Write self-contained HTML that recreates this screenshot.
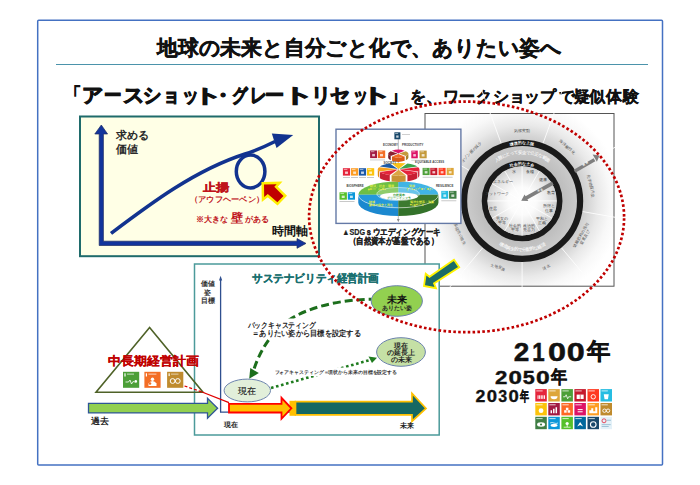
<!DOCTYPE html>
<html lang="ja"><head><meta charset="utf-8">
<style>
html,body{margin:0;padding:0;background:#fff;}
body{width:700px;height:485px;overflow:hidden;font-family:"Liberation Sans",sans-serif;}
svg{position:absolute;left:0;top:0;font-family:"Liberation Sans",sans-serif;}
</style></head>
<body>
<svg width="700" height="485" viewBox="0 0 700 485">
<defs>
  <radialGradient id="dgBg" cx="522.1" cy="200.9" r="100" gradientUnits="userSpaceOnUse">
    <stop offset="0.6" stop-color="#cccccc"/>
    <stop offset="0.66" stop-color="#d6d6d6"/>
    <stop offset="0.76" stop-color="#e9e9e9"/>
    <stop offset="0.88" stop-color="#f8f8f8"/>
    <stop offset="1" stop-color="#ffffff"/>
  </radialGradient>
  <radialGradient id="dgIn" cx="522.1" cy="200.9" r="34.6" gradientUnits="userSpaceOnUse">
    <stop offset="0" stop-color="#ffffff"/>
    <stop offset="0.4" stop-color="#fbfbfb"/>
    <stop offset="0.75" stop-color="#e6e6e6"/>
    <stop offset="1" stop-color="#d0d0d0"/>
  </radialGradient>
  <radialGradient id="dgBand" cx="522.1" cy="200.9" r="55" gradientUnits="userSpaceOnUse">
    <stop offset="0.73" stop-color="#bdbdbd"/>
    <stop offset="1" stop-color="#cacaca"/>
  </radialGradient>
</defs>

<!-- outer frame -->
<rect x="37.7" y="20.2" width="624.8" height="444.8" rx="1" fill="none" stroke="#4471c2" stroke-width="1.5"/>

<!-- title -->
<text x="157" y="55.3" font-size="20.5" font-weight="bold" fill="#111" stroke="#111" stroke-width="0.45" textLength="405" lengthAdjust="spacingAndGlyphs">地球の未来と自分ごと化で、ありたい姿へ</text>
<line x1="56" y1="64.5" x2="648" y2="64.5" stroke="#4b93ab" stroke-width="1.2"/>

<!-- subtitle -->
<g id="sub1" font-size="19.5" font-weight="bold" fill="#111" stroke="#111" stroke-width="1">
  <text x="87.49" y="102" transform="scale(0.750,1)">「</text>
  <text x="77.90" y="102" transform="scale(1.056,1)">ア</text>
  <text x="118.99" y="102" transform="scale(0.877,1)">ー</text>
  <text x="115.18" y="102" transform="scale(1.068,1)">ス</text>
  <text x="155.36" y="102" transform="scale(0.918,1)">シ</text>
  <text x="197.37" y="102" transform="scale(0.824,1)">ョ</text>
  <text x="216.32" y="102" transform="scale(0.840,1)">ッ</text>
  <text x="125.39" y="102" transform="scale(1.538,1)">ト</text>
  <text x="196.70" y="102" transform="scale(1.080,1)">・</text>
  <text x="285.31" y="102" transform="scale(0.814,1)">グ</text>
  <text x="299.87" y="102" transform="scale(0.835,1)">レ</text>
  <text x="277.96" y="102" transform="scale(0.954,1)">ー</text>
  <text x="176.55" y="102" transform="scale(1.600,1)">ト</text>
  <text x="310.56" y="102">リ</text>
  <text x="330.43" y="102">セ</text>
  <text x="470.34" y="102" transform="scale(0.750,1)">ッ</text>
  <text x="224.74" y="102" transform="scale(1.600,1)">ト</text>
  <text x="422.87" y="102" transform="scale(0.920,1)">」</text>
</g>
<text x="410.1 425.5 443.0 459.1 476.0 493.2 509.4 523.6 540.0 559.1 573.9 589.4 605.9 622.6" y="102" font-size="15.8" font-weight="bold" fill="#111" stroke="#111" stroke-width="0.35">を、ワークショップで疑似体験</text>

<!-- ===== left chart ===== -->
<rect x="80" y="116.5" width="239" height="139.7" fill="#ffffe6" stroke="#1f6b6b" stroke-width="2"/>
<!-- axes -->
<polygon points="101.3,125 107.6,134 103.4,134 103.4,241.2 297,241.2 297,238.6 306,243.4 297,248.3 297,245.5 99.2,245.5 99.2,134 94.8,134" fill="#12349c" stroke="#1d2b63" stroke-width="0.7" stroke-linejoin="miter"/>
<text x="115.5" y="138.6" font-size="11.3" font-weight="bold" fill="#2a2a2a">求める</text>
<text x="115.5" y="152.6" font-size="11.3" font-weight="bold" fill="#2a2a2a">価値</text>
<text x="271.5" y="235.3" font-size="11.5" font-weight="bold" fill="#111">時間軸</text>
<!-- curve -->
<path d="M111,233.4 C150,204 195,170 245,154 C258,150 266,146 275,141.5" fill="none" stroke="#12338f" stroke-width="3.6"/>
<polygon points="293.2,135 271.8,133.6 276.5,148" fill="#12338f"/>
<ellipse cx="250.6" cy="171.5" rx="14.3" ry="16.4" fill="none" stroke="#12338f" stroke-width="3.5"/>
<!-- labels -->
<text x="202.5" y="191.4" font-size="11.2" font-weight="bold" fill="#c0141c" stroke="#c0141c" stroke-width="0.3" textLength="26.5" lengthAdjust="spacingAndGlyphs">止揚</text>
<text x="190" y="201.8" font-size="7.8" font-weight="bold" fill="#c0141c" textLength="74" lengthAdjust="spacingAndGlyphs">（アウフヘーベン）</text>
<text x="195.5" y="221.8" font-size="8.2" font-weight="bold" fill="#c0141c">※大きな</text>
<text x="231" y="221.9" font-size="12" font-weight="bold" fill="#c0141c">壁</text>
<text x="245" y="221.8" font-size="8.2" font-weight="bold" fill="#c0141c">がある</text>
<!-- red arrow -->
<polygon points="264,184.4 276.7,184.2 274.3,186.8 283.5,195.9 277.4,202.2 267.8,194.1 264.2,196.9" fill="#c00000" stroke="#ffee00" stroke-width="5" stroke-linejoin="miter" paint-order="stroke"/>

<!-- ===== doughnut image ===== -->
<rect x="425" y="113.5" width="189" height="172.7" fill="url(#dgBg)" stroke="#555" stroke-width="1"/>
<g id="dough">
  <g stroke="#ffffff" stroke-width="0.9" opacity="0.95">
    <line x1="501.20" y1="143.48" x2="477.64" y2="78.74"/>
    <line x1="543.00" y1="143.48" x2="566.56" y2="78.74"/>
    <line x1="575.01" y1="170.35" x2="634.68" y2="135.90"/>
    <line x1="582.27" y1="211.51" x2="650.13" y2="223.47"/>
    <line x1="561.37" y1="247.71" x2="605.66" y2="300.49"/>
    <line x1="522.10" y1="262.00" x2="522.10" y2="330.90"/>
    <line x1="482.83" y1="247.71" x2="438.54" y2="300.49"/>
    <line x1="461.93" y1="211.51" x2="394.07" y2="223.47"/>
    <line x1="469.19" y1="170.35" x2="409.52" y2="135.90"/>
  </g>
  <g font-size="3.8" fill="#505050" text-anchor="middle">
    <text x="522.10" y="131.70" transform="rotate(0 522.10 130.40)">気候変動</text>
    <text x="567.42" y="148.19" transform="rotate(40 567.42 146.89)">海洋酸性化</text>
    <text x="591.06" y="187.54" transform="rotate(78 591.06 186.24)">化学物質汚染</text>
    <text x="585.15" y="238.60" transform="rotate(-60 585.15 237.30)">窒素及び</text>
    <text x="581.16" y="236.30" transform="rotate(-60 581.16 235.00)">燐酸肥料の投与</text>
    <text x="546.21" y="268.45" transform="rotate(-20 546.21 267.15)">淡水</text>
    <text x="497.99" y="268.45" transform="rotate(20 497.99 267.15)">土地変換</text>
    <text x="458.21" y="231.99" transform="rotate(65 458.21 230.69)">生物多様性の喪失</text>
    <text x="452.67" y="189.96" transform="rotate(280 452.67 188.66)">大気汚染</text>
    <text x="471.39" y="153.23" transform="rotate(314 471.39 151.93)">オゾン層の減少</text>
  </g>
  <circle cx="522.1" cy="200.9" r="47.65" fill="none" stroke="url(#dgBand)" stroke-width="14.50"/>
  <circle cx="522.1" cy="200.9" r="58.00" fill="none" stroke="#1a1a1a" stroke-width="6.2"/>
  <circle cx="522.1" cy="200.9" r="37.50" fill="none" stroke="#1a1a1a" stroke-width="5.8"/>
  <circle cx="522.1" cy="200.9" r="34.60" fill="url(#dgIn)"/>
  <g stroke="#ffffff" stroke-width="0.8">
    <line x1="522.10" y1="194.90" x2="522.10" y2="166.30"/>
    <line x1="525.10" y1="195.70" x2="539.40" y2="170.94"/>
    <line x1="527.30" y1="197.90" x2="552.06" y2="183.60"/>
    <line x1="528.10" y1="200.90" x2="556.70" y2="200.90"/>
    <line x1="527.30" y1="203.90" x2="552.06" y2="218.20"/>
    <line x1="525.10" y1="206.10" x2="539.40" y2="230.86"/>
    <line x1="522.10" y1="206.90" x2="522.10" y2="235.50"/>
    <line x1="519.10" y1="206.10" x2="504.80" y2="230.86"/>
    <line x1="516.90" y1="203.90" x2="492.14" y2="218.20"/>
    <line x1="516.10" y1="200.90" x2="487.50" y2="200.90"/>
    <line x1="516.90" y1="197.90" x2="492.14" y2="183.60"/>
    <line x1="519.10" y1="195.70" x2="504.80" y2="170.94"/>
  </g>
  <g font-size="3.7" fill="#444" text-anchor="middle">
    <text x="514.39" y="173.42">水</text>
    <text x="529.81" y="173.42">食糧</text>
    <text x="543.17" y="181.13">健康</text>
    <text x="550.88" y="194.49">教育</text>
    <text x="548.95" y="207.30">所得と</text>
    <text x="548.95" y="211.50">仕事</text>
    <text x="541.76" y="219.76">平和と</text>
    <text x="541.76" y="223.96">正義</text>
    <text x="529.30" y="226.95">政治的</text>
    <text x="529.30" y="231.15">発言力</text>
    <text x="514.90" y="226.95">社会的</text>
    <text x="514.90" y="231.15">平等</text>
    <text x="502.44" y="219.76">男女の</text>
    <text x="502.44" y="223.96">平等</text>
    <text x="493.32" y="209.91">住居</text>
    <text x="496.99" y="195.47">ネットワーク</text>
    <text x="502.65" y="182.75">エネルギー</text>
  </g>
  <defs>
    <path id="tpOut" d="M485.72,157.54 A56.6,56.6 0 0 1 558.48,157.54" fill="none"/>
    <path id="tpIn" d="M496.57,175.37 A36.1,36.1 0 0 1 547.63,175.37" fill="none"/>
    <path id="tpBandT" d="M485.98,170.59 A47.15,47.15 0 0 1 558.22,170.59" fill="none"/>
    <path id="tpBandB" d="M478.67,225.97 A50.15,50.15 0 0 0 565.53,225.97" fill="none"/>
  </defs>
  <g fill="#ffffff" font-size="3.9" font-weight="bold">
    <text><textPath href="#tpOut" startOffset="50%" text-anchor="middle">環境的な上限</textPath></text>
    <text><textPath href="#tpIn" startOffset="50%" text-anchor="middle">社会的な土台</textPath></text>
  </g>
  <g fill="#f4f4f4" font-size="4.4" font-weight="bold">
    <text><textPath href="#tpBandT" startOffset="50%" text-anchor="middle">人類にとって安全で公正な範囲</textPath></text>
    <text><textPath href="#tpBandB" startOffset="50%" text-anchor="middle">環境再生的で分配的な経済</textPath></text>
  </g>
  <line x1="552.8" y1="183.2" x2="525.5" y2="198.4" stroke="#7f7f7f" stroke-width="3.7"/>
  <polygon points="521.2,200.8 528.3,201.1 524.6,194.5" fill="#7f7f7f"/>
  <line x1="574.5" y1="171.2" x2="594.5" y2="159.8" stroke="#7f7f7f" stroke-width="3.3"/>
  <polygon points="599.5,155.5 592.6,154.4 596.9,161.8" fill="#7f7f7f"/>
  <g fill="#fff" font-size="2.6" font-weight="bold"><text x="538" y="192" transform="rotate(-29 538 192)">不足</text><text x="583" y="166" transform="rotate(-30 583 166)">超過</text></g>
</g>

<!-- ===== SDG wedding cake ===== -->
<rect x="336" y="129.2" width="124.9" height="94.2" fill="#ffffff" stroke="#6479a6" stroke-width="1.4"/>
<g id="cake">
  <line x1="398.3" y1="139" x2="398.3" y2="220" stroke="#8a8a8a" stroke-width="0.6"/>
  <polygon points="396.9,219 399.7,219 398.3,222.3" fill="#8a8a8a"/>
  <path d="M358.25,194.7 A40.1,13.1 0 0 0 398.35,207.8 L398.35,215.9 A40.1,13.1 0 0 1 358.25,202.8 Z" fill="#1b88cf"/>
  <path d="M398.35,207.8 A40.1,13.1 0 0 0 438.45,194.7 L438.45,202.8 A40.1,13.1 0 0 1 398.35,215.9 Z" fill="#33722a"/>
  <path d="M398.35,194.7 L358.25,194.7 A40.1,13.1 0 0 1 398.35,181.6 Z" fill="#6dbe45"/>
  <path d="M398.35,194.7 L398.35,181.6 A40.1,13.1 0 0 1 438.45,194.7 Z" fill="#40b4e5"/>
  <path d="M398.35,194.7 L398.35,207.8 A40.1,13.1 0 0 1 358.25,194.7 Z" fill="#2398db"/>
  <path d="M398.35,194.7 L438.45,194.7 A40.1,13.1 0 0 1 398.35,207.8 Z" fill="#3c7a2f"/>
  <path d="M358.25,194.7 A40.1,13.1 0 0 0 438.45,194.7" fill="none" stroke="#ffffff" stroke-width="0.6" opacity="0.8"/>
  <ellipse cx="398.1" cy="194" rx="21.3" ry="6.6" fill="#ffffff" fill-opacity="0.22" stroke="#ffffff" stroke-width="0.6" stroke-opacity="0.8"/>
  <ellipse cx="399" cy="196.3" rx="19" ry="3.8" fill="#ffffff"/>
  <g font-size="2.8" fill="#3a9a3a" text-anchor="middle" font-weight="bold"><text x="399" y="195.6">自然資本</text><text x="399" y="198.8">グリーンインフラ</text></g>
  <g font-size="2.6" fill="#e8f040" font-weight="bold">
    <text x="370" y="186.8">経済・社会・環境</text><text x="368" y="189.8">ﾁｪﾝｼﾞﾒｰｶｰ</text>
    <text x="409" y="186.8">気候</text><text x="407" y="189.8">ｸﾞﾘｰﾝﾌﾟﾛｼﾞｪｸﾄ</text>
    <text x="369" y="202.6">陸域</text><text x="369" y="205.6">森林の保全と再生</text>
    <text x="410" y="203">海洋生態系・漁業</text><text x="410" y="206">ｻｽﾃﾅﾌﾞﾙ</text>
  </g>
<path d="M398.60,168.93 L391.58,163.33 A19.6,6.0 0 0 1 405.62,163.33 Z" fill="#f9c21a"/>
<path d="M399.45,169.04 L407.42,163.56 A19.6,6.0 0 0 1 417.35,166.60 Z" fill="#3da24a"/>
<path d="M397.75,169.04 L379.85,166.60 A19.6,6.0 0 0 1 389.78,163.56 Z" fill="#1d5ba5"/>
<path d="M419.40,169.30 A19.6,6.0 0 0 1 418.10,171.45 L418.10,177.65 A19.6,6.0 0 0 0 419.40,175.50 Z" fill="#c81f33"/>
<path d="M399.80,169.30 L418.10,167.15 A19.6,6.0 0 0 1 418.10,171.45 Z" fill="#e5243b"/>
<path d="M379.10,171.45 A19.6,6.0 0 0 1 377.80,169.30 L377.80,175.50 A19.6,6.0 0 0 0 379.10,177.65 Z" fill="#e08a10"/>
<path d="M397.40,169.30 L379.10,171.45 A19.6,6.0 0 0 1 379.10,167.15 Z" fill="#f7a11d"/>
<path d="M417.35,172.00 A19.6,6.0 0 0 1 407.42,175.04 L407.42,181.24 A19.6,6.0 0 0 0 417.35,178.20 Z" fill="#c81f33"/>
<path d="M399.45,169.56 L417.35,172.00 A19.6,6.0 0 0 1 407.42,175.04 Z" fill="#e5243b"/>
<path d="M389.78,175.04 A19.6,6.0 0 0 1 379.85,172.00 L379.85,178.20 A19.6,6.0 0 0 0 389.78,181.24 Z" fill="#c81f33"/>
<path d="M397.75,169.56 L389.78,175.04 A19.6,6.0 0 0 1 379.85,172.00 Z" fill="#e5243b"/>
<path d="M405.62,175.27 A19.6,6.0 0 0 1 391.58,175.27 L391.58,181.47 A19.6,6.0 0 0 0 405.62,181.47 Z" fill="#c99236"/>
<path d="M398.60,169.67 L405.62,175.27 A19.6,6.0 0 0 1 391.58,175.27 Z" fill="#dba544"/>
<path d="M398.30,153.29 L391.96,150.66 A9.3,3.6 0 0 1 404.64,150.66 Z" fill="#dd1367"/>
<path d="M408.40,153.60 A9.3,3.6 0 0 1 405.90,156.06 L405.90,160.26 A9.3,3.6 0 0 0 408.40,157.80 Z" fill="#a8822e"/>
<path d="M399.10,153.60 L405.90,151.14 A9.3,3.6 0 0 1 405.90,156.06 Z" fill="#c49a3c"/>
<path d="M390.70,156.06 A9.3,3.6 0 0 1 388.20,153.60 L388.20,157.80 A9.3,3.6 0 0 0 390.70,160.26 Z" fill="#701828"/>
<path d="M397.50,153.60 L390.70,156.06 A9.3,3.6 0 0 1 390.70,151.14 Z" fill="#8c1f2e"/>
<path d="M404.64,156.54 A9.3,3.6 0 0 1 391.96,156.54 L391.96,160.74 A9.3,3.6 0 0 0 404.64,160.74 Z" fill="#d85a18"/>
<path d="M398.30,153.91 L404.64,156.54 A9.3,3.6 0 0 1 391.96,156.54 Z" fill="#f36d25"/>

<rect x="394.4" y="132.3" width="6" height="7" fill="#19486a"/><rect x="396.20" y="135.45" width="2.40" height="2.24" fill="#fff" opacity="0.75"/><rect x="395.12" y="133.00" width="3.00" height="0.84" fill="#fff" opacity="0.6"/>
<rect x="370.1" y="150.5" width="6.9" height="7.6" fill="#a21942"/><rect x="372.17" y="153.92" width="2.76" height="2.43" fill="#fff" opacity="0.75"/><rect x="370.93" y="151.26" width="3.45" height="0.91" fill="#fff" opacity="0.6"/>
<rect x="377.8" y="150.5" width="7.4" height="7.6" fill="#f36d25"/><rect x="380.02" y="153.92" width="2.96" height="2.43" fill="#fff" opacity="0.75"/><rect x="378.69" y="151.26" width="3.70" height="0.91" fill="#fff" opacity="0.6"/>
<rect x="411.3" y="150.6" width="6.5" height="7.7" fill="#dd1367"/><rect x="413.25" y="154.06" width="2.60" height="2.46" fill="#fff" opacity="0.75"/><rect x="412.08" y="151.37" width="3.25" height="0.92" fill="#fff" opacity="0.6"/>
<rect x="419.5" y="150.6" width="7.2" height="7.7" fill="#c49a3c"/><rect x="421.66" y="154.06" width="2.88" height="2.46" fill="#fff" opacity="0.75"/><rect x="420.36" y="151.37" width="3.60" height="0.92" fill="#fff" opacity="0.6"/>
<rect x="342.9" y="168.2" width="7.2" height="7.4" fill="#e5243b"/><rect x="345.06" y="171.53" width="2.88" height="2.37" fill="#fff" opacity="0.75"/><rect x="343.76" y="168.94" width="3.60" height="0.89" fill="#fff" opacity="0.6"/>
<rect x="351" y="168.2" width="7.2" height="7.4" fill="#fd9d24"/><rect x="353.16" y="171.53" width="2.88" height="2.37" fill="#fff" opacity="0.75"/><rect x="351.86" y="168.94" width="3.60" height="0.89" fill="#fff" opacity="0.6"/>
<rect x="358.9" y="168.2" width="7.2" height="7.4" fill="#1e5aa8"/><rect x="361.06" y="171.53" width="2.88" height="2.37" fill="#fff" opacity="0.75"/><rect x="359.76" y="168.94" width="3.60" height="0.89" fill="#fff" opacity="0.6"/>
<rect x="367" y="168.2" width="7.2" height="7.4" fill="#fcc30b"/><rect x="369.16" y="171.53" width="2.88" height="2.37" fill="#fff" opacity="0.75"/><rect x="367.86" y="168.94" width="3.60" height="0.89" fill="#fff" opacity="0.6"/>
<rect x="422.6" y="167.9" width="7.0" height="7.2" fill="#4c9f38"/><rect x="424.70" y="171.14" width="2.80" height="2.30" fill="#fff" opacity="0.75"/><rect x="423.44" y="168.62" width="3.50" height="0.86" fill="#fff" opacity="0.6"/>
<rect x="430.3" y="167.9" width="7.0" height="7.2" fill="#c5192d"/><rect x="432.40" y="171.14" width="2.80" height="2.30" fill="#fff" opacity="0.75"/><rect x="431.14" y="168.62" width="3.50" height="0.86" fill="#fff" opacity="0.6"/>
<rect x="438.6" y="167.9" width="7.0" height="7.2" fill="#ff3a21"/><rect x="440.70" y="171.14" width="2.80" height="2.30" fill="#fff" opacity="0.75"/><rect x="439.44" y="168.62" width="3.50" height="0.86" fill="#fff" opacity="0.6"/>
<rect x="446.7" y="167.9" width="7.0" height="7.2" fill="#dda63a"/><rect x="448.80" y="171.14" width="2.80" height="2.30" fill="#fff" opacity="0.75"/><rect x="447.54" y="168.62" width="3.50" height="0.86" fill="#fff" opacity="0.6"/>
<rect x="339.5" y="192.3" width="7.4" height="7.4" fill="#56c02b"/><rect x="341.72" y="195.63" width="2.96" height="2.37" fill="#fff" opacity="0.75"/><rect x="340.39" y="193.04" width="3.70" height="0.89" fill="#fff" opacity="0.6"/>
<rect x="347.8" y="192.3" width="7.2" height="7.4" fill="#0a97d9"/><rect x="349.96" y="195.63" width="2.88" height="2.37" fill="#fff" opacity="0.75"/><rect x="348.66" y="193.04" width="3.60" height="0.89" fill="#fff" opacity="0.6"/>
<rect x="441.3" y="190.9" width="6.9" height="7.8" fill="#26bde2"/><rect x="443.37" y="194.41" width="2.76" height="2.50" fill="#fff" opacity="0.75"/><rect x="442.13" y="191.68" width="3.45" height="0.94" fill="#fff" opacity="0.6"/>
<rect x="449.1" y="190.9" width="7.4" height="7.8" fill="#3f7e44"/><rect x="451.32" y="194.41" width="2.96" height="2.50" fill="#fff" opacity="0.75"/><rect x="449.99" y="191.68" width="3.70" height="0.94" fill="#fff" opacity="0.6"/>
  <g font-size="2.9" fill="#444" font-weight="bold">
    <text x="383" y="146">ECONOMY</text><text x="402" y="146">PRODUCTIVITY</text>
    <text x="383.5" y="163.6">SOCIETY</text><text x="415" y="163.2">EQUITABLE ACCESS</text>
    <text x="346.6" y="187.4">BIOSPHERE</text><text x="436" y="186.5">RESILIENCE</text>
  </g>
  <g fill="#bbb">
    <rect x="343" y="177.2" width="7" height="0.8"/><rect x="351" y="177.2" width="7" height="0.8"/><rect x="359" y="177.2" width="7" height="0.8"/><rect x="367" y="177.2" width="7" height="0.8"/>
    <rect x="422.6" y="176.8" width="30" height="0.8"/>
    <rect x="339.5" y="201.2" width="15" height="0.8"/><rect x="441.3" y="200.4" width="15" height="0.8"/>
    <rect x="370" y="159.6" width="15" height="0.7"/><rect x="411.3" y="159.8" width="15" height="0.7"/>
    <rect x="402" y="134" width="8" height="0.7"/>
  </g>
</g>
<text x="342.3" y="235" font-size="8.6" font-weight="bold" fill="#222" stroke="#222" stroke-width="0.2" textLength="98.5" lengthAdjust="spacingAndGlyphs">▲SDGｓウエディングケーキ</text>
<text x="348.6" y="243.6" font-size="8.6" font-weight="bold" fill="#222" stroke="#222" stroke-width="0.2" textLength="89.5" lengthAdjust="spacingAndGlyphs">（自然資本が基盤である）</text>

<!-- ===== sustainability box ===== -->
<rect x="194.5" y="264" width="244.7" height="171" fill="#ffffff" stroke="#4b9a9a" stroke-width="1.5"/>
<!-- teal arrow from doughnut -->
<polygon points="424,286 425.7,273.8 429.5,276.8 454,259.8 459.2,267.3 434,283.4 436,288.2" fill="#1b6b67" stroke="#fff200" stroke-width="1.8" stroke-linejoin="miter"/>
<!-- axis -->
<line x1="220.6" y1="279" x2="220.6" y2="412.2" stroke="#2f4f8f" stroke-width="1.3"/>
<line x1="220" y1="412.2" x2="300" y2="412.2" stroke="#2f4f8f" stroke-width="1.3"/>
<polygon points="219,280.5 222.2,280.5 220.6,275.8" fill="#2f4f8f"/>
<g font-size="7.4" font-weight="bold" fill="#333" text-anchor="middle">
  <text x="207.6" y="286.4">価値</text>
  <text x="207.6" y="294.9">姿</text>
  <text x="207.6" y="303.4">目標</text>
</g>
<text x="252" y="282" font-size="11" font-weight="bold" fill="#1a7070" stroke="#1a7070" stroke-width="0.3" textLength="127" lengthAdjust="spacingAndGlyphs">サステナビリティ経営計画</text>
<!-- backcasting dashed -->
<path id="bcpath" d="M371,299.3 C340,299.5 300,308 280,327 C268,338 259,354 254.2,368.5" fill="none" stroke="#1c6e1c" stroke-width="3" stroke-dasharray="8,4" stroke-dashoffset="5.6"/>
<polygon points="249.2,378.8 250.3,368 258.8,373.1" fill="#1c6e1c"/>
<rect x="246" y="318.5" width="117" height="19.5" fill="#fff"/>
<text x="247.5" y="328.3" font-size="7.6" font-weight="bold" fill="#222" textLength="68" lengthAdjust="spacingAndGlyphs">バックキャスティング</text>
<text x="252" y="336.2" font-size="7.6" font-weight="bold" fill="#222" textLength="109" lengthAdjust="spacingAndGlyphs">＝ありたい姿から目標を設定する</text>

<!-- forecasting dotted -->
<line x1="271" y1="388" x2="370" y2="360" stroke="#1e7b1e" stroke-width="2.6" stroke-dasharray="2.6,2.6"/>
<polygon points="377,357.8 368.5,356.5 372,363" fill="#1e7b1e"/>
<rect x="273" y="367.6" width="124.5" height="8.4" fill="#ffffff"/>
<text x="274.6" y="374.2" font-size="5" font-weight="bold" fill="#333" textLength="122.4" lengthAdjust="spacingAndGlyphs">フォアキャスティング＝現状から未来の目標を設定する</text>

<!-- ellipses -->
<ellipse cx="396.8" cy="301" rx="25.6" ry="15.3" fill="#92d050" stroke="#6c83ad" stroke-width="1"/>
<text x="396.8" y="303.3" font-size="10" font-weight="bold" text-anchor="middle" fill="#111">未来</text>
<text x="396.6" y="310.2" font-size="5.6" font-weight="bold" text-anchor="middle" fill="#222">ありたい姿</text>
<ellipse cx="401" cy="352" rx="24.4" ry="14.3" fill="#c5e0a5" stroke="#6c83ad" stroke-width="1"/>
<g font-size="6.6" font-weight="bold" text-anchor="middle" fill="#222">
  <text x="401" y="347.6">現在</text>
  <text x="401" y="355">の延長上</text>
  <text x="401" y="362.4">の未来</text>
</g>
<ellipse cx="247.3" cy="390.5" rx="23.2" ry="11.4" fill="#e2efda" stroke="#6c83ad" stroke-width="1"/>
<text x="247.3" y="394" font-size="9" text-anchor="middle" fill="#1a1a1a" stroke="#1a1a1a" stroke-width="0.15">現在</text>

<!-- bottom arrows -->
<polygon points="295.5,401.7 412,401.7 412,393.3 426,408.4 412,421.2 412,414.9 295.5,414.9" fill="#156863" stroke="#ffc000" stroke-width="1.7" stroke-linejoin="miter"/>
<rect x="289.5" y="400.8" width="6.5" height="15" fill="#ffc000"/>
<polygon points="229,403.8 281.5,403.8 281.5,397.8 291.4,408.3 281.5,418.8 281.5,412.5 229,412.5" fill="#ffc000" stroke="#ff0000" stroke-width="1.8" stroke-linejoin="miter"/>
<polygon points="88.5,403.4 207.5,403.4 207.5,398.4 217.6,408.3 207.5,418.2 207.5,412.9 88.5,412.9" fill="#92d050" stroke="#2f5597" stroke-width="1.3" stroke-linejoin="miter"/>
<text x="90.5" y="423.6" font-size="9" font-weight="bold" fill="#222">過去</text>
<text x="223.5" y="427.4" font-size="7.4" font-weight="bold" fill="#222">現在</text>
<text x="399.5" y="427.6" font-size="7.4" font-weight="bold" fill="#222">未来</text>

<!-- triangle -->
<polygon points="149.6,327.6 96,392.3 203,392.3" fill="none" stroke="#4f6228" stroke-width="1.6"/>
<text x="108" y="364.8" font-size="12.3" font-weight="bold" fill="#c00000" stroke="#c00000" stroke-width="0.15" textLength="90.5" lengthAdjust="spacingAndGlyphs">中長期経営計画</text>
<rect x="123" y="371.8" width="16.2" height="16" fill="#4c9f38"/>
<rect x="124.4" y="373.3" width="1.2" height="3.2" fill="#fff"/><rect x="127" y="373.6" width="7" height="1" fill="#fff" opacity="0.7"/>
<polyline points="125.5,382 128.5,382 130,380 131.5,384 133,381.5 134.5,382" fill="none" stroke="#fff" stroke-width="0.8"/><circle cx="135.8" cy="381.4" r="1.3" fill="#fff"/>
<rect x="144.4" y="371.8" width="16.2" height="16" fill="#f36d25"/>
<rect x="145.8" y="373.3" width="1.2" height="3.2" fill="#fff"/><rect x="148.4" y="373.6" width="8" height="1" fill="#fff" opacity="0.7"/>
<circle cx="152.5" cy="379.2" r="1.7" fill="#fff"/><path d="M148.5,386 v-2.5 q1.5,-2.5 4,-2.5 q2.5,0 4,2.5 v2.5 z" fill="#fff"/><circle cx="150" cy="383.5" r="1.3" fill="#f36d25"/>
<rect x="167.1" y="371.8" width="16.2" height="16" fill="#bf8b2e"/>
<rect x="168.5" y="373.3" width="1.3" height="2.8" fill="#fff" opacity="0.9"/><rect x="171" y="373.6" width="7.5" height="1" fill="#fff" opacity="0.6"/>
<circle cx="172.6" cy="381" r="2.4" fill="none" stroke="#fff" stroke-width="1"/><circle cx="177.8" cy="381" r="2.4" fill="none" stroke="#fff" stroke-width="1"/>
<!-- red line -->
<line x1="184.5" y1="386" x2="202" y2="392" stroke="#e00000" stroke-width="1.3" stroke-dasharray="3,2"/>
<line x1="202" y1="392" x2="229" y2="402.6" stroke="#e00000" stroke-width="1.3"/>

<!-- years -->
<g id="years">
<text x="483.06" y="360.75" font-size="26.29" font-weight="bold" fill="#111" stroke="#111" stroke-width="0.5" transform="scale(1.0637,1)">2</text>
<text x="626.20" y="360.75" font-size="26.29" font-weight="bold" fill="#111" stroke="#111" stroke-width="0.5" transform="scale(0.8499,1)">1</text>
<text x="445.37" y="360.75" font-size="26.29" font-weight="bold" fill="#111" stroke="#111" stroke-width="0.5" transform="scale(1.2303,1)">0</text>
<text x="460.73" y="360.75" font-size="26.29" font-weight="bold" fill="#111" stroke="#111" stroke-width="0.5" transform="scale(1.2303,1)">0</text>
<text x="578.08" y="359.03" font-size="22.99" font-weight="bold" fill="#111" stroke="#111" stroke-width="0.5" transform="scale(1.0149,1)">年</text>
<text x="416.46" y="383.60" font-size="18.71" font-weight="bold" fill="#111" stroke="#111" stroke-width="0.4" transform="scale(1.1887,1)">2</text>
<text x="395.84" y="383.60" font-size="18.71" font-weight="bold" fill="#111" stroke="#111" stroke-width="0.4" transform="scale(1.2847,1)">0</text>
<text x="453.00" y="383.60" font-size="18.71" font-weight="bold" fill="#111" stroke="#111" stroke-width="0.4" transform="scale(1.1542,1)">5</text>
<text x="406.43" y="383.60" font-size="18.71" font-weight="bold" fill="#111" stroke="#111" stroke-width="0.4" transform="scale(1.3188,1)">0</text>
<text x="614.56" y="383.26" font-size="18.14" font-weight="bold" fill="#111" stroke="#111" stroke-width="0.4" transform="scale(0.8963,1)">年</text>
<text x="417.12" y="402.35" font-size="15.57" font-weight="bold" fill="#111" stroke="#111" stroke-width="0.3" transform="scale(1.1402,1)">2</text>
<text x="409.43" y="402.35" font-size="15.57" font-weight="bold" fill="#111" stroke="#111" stroke-width="0.3" transform="scale(1.1888,1)">0</text>
<text x="484.98" y="402.35" font-size="15.57" font-weight="bold" fill="#111" stroke="#111" stroke-width="0.3" transform="scale(1.0275,1)">3</text>
<text x="427.68" y="402.35" font-size="15.57" font-weight="bold" fill="#111" stroke="#111" stroke-width="0.3" transform="scale(1.1888,1)">0</text>
<text x="804.96" y="401.24" font-size="13.61" font-weight="bold" fill="#111" stroke="#111" stroke-width="0.3" transform="scale(0.6458,1)">年</text>
</g>

<!-- SDG grid -->
<g id="sdg">
  <rect x="535.3" y="389.1" width="11.5" height="12.4" fill="#e5243b"/>
  <rect x="536.30" y="390.40" width="6.33" height="1" fill="#ffffff" opacity="0.75"/>
  <rect x="537.55" y="395.29" width="1" height="3.6" fill="#ffffff"/>
  <rect x="539.15" y="395.29" width="1" height="3.6" fill="#ffffff"/>
  <rect x="540.75" y="395.29" width="1" height="3.6" fill="#ffffff"/>
  <rect x="542.35" y="395.29" width="1" height="3.6" fill="#ffffff"/>
  <rect x="543.95" y="395.29" width="1" height="3.6" fill="#ffffff"/>
  <rect x="548.3" y="389.1" width="11.5" height="12.4" fill="#dda63a"/>
  <rect x="549.30" y="390.40" width="6.33" height="1" fill="#ffffff" opacity="0.75"/>
  <path d="M550.55,396.29 h7 a3.5,3 0 0 1 -7,0 z" fill="#ffffff"/>
  <rect x="561.4" y="389.1" width="11.5" height="12.4" fill="#4c9f38"/>
  <rect x="562.40" y="390.40" width="6.33" height="1" fill="#ffffff" opacity="0.75"/>
  <polyline points="563.15,396.79 565.15,396.79 566.15,394.79 567.65,398.79 568.65,396.79 571.15,396.79" fill="none" stroke="#ffffff" stroke-width="0.8"/>
  <rect x="574.4" y="389.1" width="11.5" height="12.4" fill="#c5192d"/>
  <rect x="575.40" y="390.40" width="6.33" height="1" fill="#ffffff" opacity="0.75"/>
  <rect x="576.65" y="394.59" width="7" height="4.4" fill="#ffffff"/><rect x="579.85" y="394.59" width="0.6" height="4.4" fill="#c5192d"/>
  <rect x="587.5" y="389.1" width="11.5" height="12.4" fill="#ff3a21"/>
  <rect x="588.50" y="390.40" width="6.33" height="1" fill="#ffffff" opacity="0.75"/>
  <circle cx="593.25" cy="396.79" r="2.2" fill="none" stroke="#ffffff" stroke-width="0.9"/>
  <rect x="600.5" y="389.1" width="11.5" height="12.4" fill="#26bde2"/>
  <rect x="601.50" y="390.40" width="6.33" height="1" fill="#ffffff" opacity="0.75"/>
  <path d="M603.75,394.29 h5 l-0.8,5 h-3.4 z" fill="#ffffff"/>
  <rect x="535.3" y="403.0" width="11.5" height="12.4" fill="#fcc30b"/>
  <rect x="536.30" y="404.30" width="6.33" height="1" fill="#ffffff" opacity="0.75"/>
  <circle cx="541.05" cy="410.69" r="2.4" fill="#ffffff"/>
  <rect x="548.3" y="403.0" width="11.5" height="12.4" fill="#a21942"/>
  <rect x="549.30" y="404.30" width="6.33" height="1" fill="#ffffff" opacity="0.75"/>
  <path d="M550.55,413.19 v-3 h1.5 v3 h1 v-4.5 h1.5 v4.5 h1 v-6 h1.5 v6 z" fill="#ffffff"/>
  <rect x="561.4" y="403.0" width="11.5" height="12.4" fill="#fd6925"/>
  <rect x="562.40" y="404.30" width="6.33" height="1" fill="#ffffff" opacity="0.75"/>
  <rect x="564.15" y="410.19" width="2.5" height="2.5" fill="#ffffff"/><rect x="567.65" y="410.19" width="2.5" height="2.5" fill="#ffffff"/><rect x="565.90" y="407.69" width="2.5" height="2.5" fill="#ffffff"/>
  <rect x="574.4" y="403.0" width="11.5" height="12.4" fill="#dd1367"/>
  <rect x="575.40" y="404.30" width="6.33" height="1" fill="#ffffff" opacity="0.75"/>
  <rect x="577.65" y="409.09" width="5" height="1" fill="#ffffff"/><rect x="577.65" y="411.29" width="5" height="1" fill="#ffffff"/>
  <rect x="587.5" y="403.0" width="11.5" height="12.4" fill="#fd9d24"/>
  <rect x="588.50" y="404.30" width="6.33" height="1" fill="#ffffff" opacity="0.75"/>
  <path d="M589.25,413.19 v-3 h2 v-2 h2 v3 h2 v-4 h2 v6 z" fill="#ffffff"/>
  <rect x="600.5" y="403.0" width="11.5" height="12.4" fill="#bf8b2e"/>
  <rect x="601.50" y="404.30" width="6.33" height="1" fill="#ffffff" opacity="0.75"/>
  <circle cx="604.45" cy="410.69" r="1.7" fill="none" stroke="#ffffff" stroke-width="0.9"/><circle cx="608.05" cy="410.69" r="1.7" fill="none" stroke="#ffffff" stroke-width="0.9"/>
  <rect x="535.3" y="416.8" width="11.5" height="12.4" fill="#3f7e44"/>
  <rect x="536.30" y="418.10" width="6.33" height="1" fill="#ffffff" opacity="0.75"/>
  <ellipse cx="541.05" cy="424.49" rx="4" ry="2.2" fill="#ffffff"/><circle cx="541.05" cy="424.49" r="1.1" fill="#3f7e44"/>
  <rect x="548.3" y="416.8" width="11.5" height="12.4" fill="#0a97d9"/>
  <rect x="549.30" y="418.10" width="6.33" height="1" fill="#ffffff" opacity="0.75"/>
  <ellipse cx="554.05" cy="425.29" rx="3.5" ry="1.6" fill="#ffffff"/><path d="M550.05,422.99 q2,-1 4,0 q2,1 4,0" fill="none" stroke="#ffffff" stroke-width="0.7"/>
  <rect x="561.4" y="416.8" width="11.5" height="12.4" fill="#56c02b"/>
  <rect x="562.40" y="418.10" width="6.33" height="1" fill="#ffffff" opacity="0.75"/>
  <circle cx="567.15" cy="423.49" r="1.6" fill="#ffffff"/><rect x="566.75" y="424.49" width="0.8" height="2.5" fill="#ffffff"/><rect x="563.65" y="426.79" width="7" height="0.7" fill="#ffffff"/>
  <rect x="574.4" y="416.8" width="11.5" height="12.4" fill="#00689d"/>
  <rect x="575.40" y="418.10" width="6.33" height="1" fill="#ffffff" opacity="0.75"/>
  <path d="M577.15,426.49 l3,-4.5 l3,4.5 l-3,-1.5 z" fill="#ffffff"/>
  <rect x="587.5" y="416.8" width="11.5" height="12.4" fill="#19486a"/>
  <rect x="588.50" y="418.10" width="6.33" height="1" fill="#ffffff" opacity="0.75"/>
  <circle cx="593.25" cy="424.49" r="2.8" fill="none" stroke="#ffffff" stroke-width="1.1"/>
  <rect x="600.5" y="416.8" width="11.5" height="12.4" fill="#e4f1f8"/>
  <circle cx="604.00" cy="420.80" r="2" fill="none" stroke="#e5243b" stroke-width="0.8"/>
  <rect x="606.50" y="419.80" width="4.5" height="0.8" fill="#8fb8cf"/><rect x="601.70" y="424.30" width="9" height="0.8" fill="#8fb8cf"/><rect x="601.70" y="426.10" width="7" height="0.8" fill="#8fb8cf"/>
</g>

<!-- red dotted ellipse -->
<ellipse cx="466.6" cy="216.9" rx="157.5" ry="115.3" transform="rotate(0.45 466.6 216.9)" fill="none" stroke="#c00000" stroke-width="2.7" stroke-dasharray="2.6,2.3"/>
</svg>
</body></html>
